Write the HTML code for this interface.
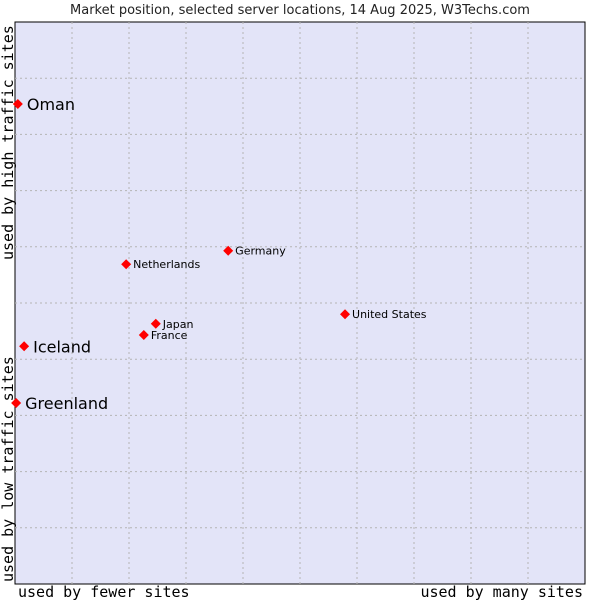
<!DOCTYPE html>
<html><head><meta charset="utf-8"><style>
body{margin:0;background:#fff;width:600px;height:600px;overflow:hidden;font-family:"DejaVu Sans","Liberation Sans",sans-serif}
</style></head><body>
<svg id="c" width="600" height="600">
<text x="300" y="14" text-anchor="middle" font-size="13" fill="#222">Market position, selected server locations, 14 Aug 2025, W3Techs.com</text>
<rect x="15" y="22" width="570" height="562" fill="#e3e4f8" stroke="#000" stroke-width="1"/>
<g id="grid"></g>
<g id="pts"></g>
<text x="18" y="597" font-family="'DejaVu Sans Mono','Liberation Mono',monospace" font-size="15" fill="#000">used by fewer sites</text>
<text x="583" y="597" text-anchor="end" font-family="'DejaVu Sans Mono','Liberation Mono',monospace" font-size="15" fill="#000">used by many sites</text>
<text transform="translate(13,582) rotate(-90)" font-family="'DejaVu Sans Mono','Liberation Mono',monospace" font-size="15" fill="#000">used by low traffic sites</text>
<text transform="translate(13,260) rotate(-90)" font-family="'DejaVu Sans Mono','Liberation Mono',monospace" font-size="15" fill="#000">used by high traffic sites</text>
</svg>
<script>
const names=["Oman","Iceland","Greenland","Netherlands","Germany","Japan","France","United States"];
const xVals=[0.5,1.6,0.2,19.5,37.4,24.7,22.6,57.9];
const yVals=[85.4,42.3,32.2,56.9,59.3,46.3,44.3,48.0];
const big=[true,true,true,false,false,false,false,false];
const NS="http://www.w3.org/2000/svg";
const L=15,T=22,W=570,H=562;
const sx=v=>L+v/100*W, sy=v=>T+H-v/100*H;
const g=document.getElementById('grid'),p=document.getElementById('pts');
for(let i=1;i<10;i++){
 const vx=document.createElementNS(NS,'line');
 vx.setAttribute('x1',sx(i*10));vx.setAttribute('x2',sx(i*10));vx.setAttribute('y1',T);vx.setAttribute('y2',T+H);
 vx.setAttribute('stroke','#b4b4b4');vx.setAttribute('stroke-dasharray','2,3');
 
 
 g.appendChild(vx);
 const hy=document.createElementNS(NS,'line');
 hy.setAttribute('y1',sy(i*10));hy.setAttribute('y2',sy(i*10));hy.setAttribute('x1',L);hy.setAttribute('x2',L+W);
 hy.setAttribute('stroke','#b4b4b4');hy.setAttribute('stroke-dasharray','2,3');
 
 
 g.appendChild(hy);
}
names.forEach((n,i)=>{
 const x=sx(xVals[i]),y=sy(yVals[i]);
 const d=document.createElementNS(NS,'polygon');
 d.setAttribute('points',`${x},${y-5} ${x+5},${y} ${x},${y+5} ${x-5},${y}`);
 d.setAttribute('fill','#f00');
 
 
 p.appendChild(d);
 const t=document.createElementNS(NS,'text');
 t.setAttribute('x',x+(big[i]?9:7));t.setAttribute('y',y+(big[i]?6:4));
 t.setAttribute('font-size',big[i]?16:11);t.setAttribute('fill','#000');
 t.textContent=n;
 
 
 p.appendChild(t);
});
</script>
</body></html>
